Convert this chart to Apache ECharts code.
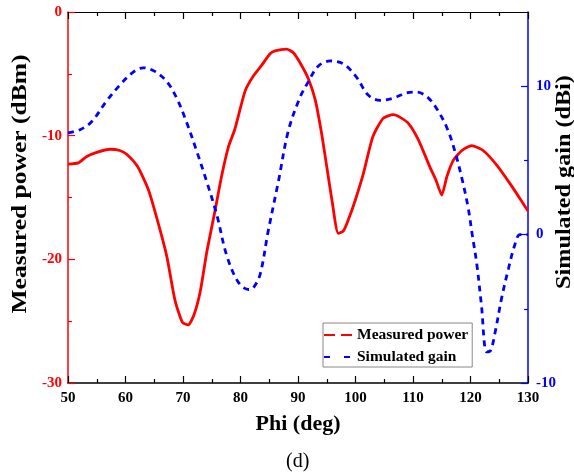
<!DOCTYPE html>
<html>
<head>
<meta charset="utf-8">
<script src="https://cdn.jsdelivr.net/npm/echarts@6/dist/echarts.min.js"></script>
<style>html,body{margin:0;padding:0;background:#fff}#c{width:574px;height:474px}</style>
</head>
<body>
<div id="c"></div>
<script>
var measuredPhi = [50,51.8,53.2,55,57.3,59.0,60.2,62.1,64.0,65.7,67.2,68.6,69.9,70.9,71.9,73.0,74.1,75.6,76.7,77.9,79.0,80.8,82.2,83.7,85.1,86.0,88.0,89.2,90.6,91.8,93.0,94.1,95.0,95.9,97.0,97.9,98.75,99.9,101.4,103.0,104.8,106.6,107.7,109.2,110.9,113.0,114.0,115.0,115.9,117.0,118.5,120.2,122.2,124.6,126.9,128.9,130];
var measuredPower = [-12.3,-12.2,-11.7,-11.35,-11.1,-11.2,-11.5,-12.5,-14.4,-17.1,-19.8,-23.3,-25.1,-25.3,-24.5,-22.6,-19.5,-16.0,-13.3,-10.9,-9.5,-6.4,-5.2,-4.3,-3.4,-3.15,-3.0,-3.3,-4.3,-5.4,-7.1,-9.8,-12.5,-15.2,-17.9,-17.7,-16.8,-15.3,-13.0,-10.1,-8.6,-8.3,-8.5,-9.0,-10.3,-12.6,-13.6,-14.8,-13.3,-12.0,-11.2,-10.8,-11.2,-12.4,-13.9,-15.3,-16.1];
var simulatedPhi = [50,52.1,54.1,56.7,59.3,61.4,63.1,65.1,67.2,68.9,70.6,72.4,74.1,75.9,77.6,79.6,81.4,82.2,83.4,84.8,86.6,88.3,90.3,91.8,93.5,95.6,97.9,100.2,102.2,104.3,106.6,108.9,110.6,112.4,114.1,115.9,117.3,118.5,119.6,120.3,121.1,121.9,122.8,123.5,124.3,125.4,126.6,127.7,128.6,130];
var simulatedGain = [6.85,7.07,7.6,9.0,10.2,10.97,11.24,11.0,10.3,9.2,7.6,5.6,3.6,1.3,-1.4,-3.2,-3.7,-3.6,-2.7,0.2,3.6,6.96,9.2,10.3,11.35,11.7,11.5,10.6,9.4,9.05,9.2,9.55,9.6,9.3,8.5,7.2,5.6,3.8,1.8,0,-2.0,-4.75,-7.9,-7.8,-6.55,-4.3,-2.3,-0.7,0,0];
var xTicks = [50,60,70,80,90,100,110,120,130];
var leftTicks = [-30,-20,-10,0];
var rightTicks = [-10,0,10];

function zip(a,b){return a.map(function(v,i){return [v,b[i]];});}
var F = '"Liberation Serif","Times New Roman",serif';
var RED = '#ff0000', BLUE = '#0000ff';

var chart = echarts.init(document.getElementById('c'));
chart.setOption({
  animation:false,
  backgroundColor:'#fff',
  grid:{left:68,right:46,top:12,bottom:91,containLabel:false,outerBoundsMode:'none'},
  xAxis:[{
    type:'value',min:50,max:130,interval:10,position:'bottom',
    name:'Phi (deg)',nameLocation:'middle',nameGap:30,
    nameTextStyle:{fontFamily:F,fontWeight:'bold',fontSize:22,color:'#000'},
    axisLine:{onZero:false,lineStyle:{color:'#000',width:1.5}},
    axisTick:{inside:true,length:7,lineStyle:{color:'#000',width:1.2}},
    minorTick:{show:true,splitNumber:2,length:4,lineStyle:{color:'#000',width:1.2}},
    splitLine:{show:false},
    axisLabel:{fontFamily:F,fontWeight:'bold',fontSize:15,color:'#000',margin:8,
      customValues:xTicks}
  },{
    type:'value',min:50,max:130,interval:10,position:'top',
    axisLine:{onZero:false,lineStyle:{color:'#000',width:1.2}},
    axisTick:{inside:true,length:7,lineStyle:{color:'#000',width:1.2}},
    minorTick:{show:true,splitNumber:2,length:4,lineStyle:{color:'#000',width:1.2}},
    splitLine:{show:false},axisLabel:{show:false}
  }],
  yAxis:[{
    type:'value',min:-30,max:0,interval:10,position:'left',
    axisLine:{onZero:false,lineStyle:{color:RED,width:1.5}},
    axisTick:{inside:true,length:7,lineStyle:{color:RED,width:1.2}},
    minorTick:{show:true,splitNumber:2,length:4,lineStyle:{color:RED,width:1.2}},
    splitLine:{show:false},
    axisLabel:{fontFamily:F,fontWeight:'bold',fontSize:15,color:RED,margin:6,customValues:leftTicks}
  },{
    type:'value',min:-10,max:15,interval:5,position:'right',
    axisLine:{onZero:false,lineStyle:{color:BLUE,width:1.5}},
    axisTick:{inside:true,length:7,lineStyle:{color:BLUE,width:1.2},customValues:rightTicks},
    splitLine:{show:false},
    axisLabel:{fontFamily:F,fontWeight:'bold',fontSize:15,color:BLUE,margin:8,customValues:rightTicks}
  },{
    type:'value',min:-10,max:15,interval:5,position:'right',
    axisLine:{show:false,onZero:false},
    axisTick:{inside:true,length:4,lineStyle:{color:BLUE,width:1.2},customValues:[-5,5]},
    splitLine:{show:false},axisLabel:{show:false}
  }],
  legend:{
    orient:'vertical',left:323,top:323,
    itemWidth:28,itemHeight:14,itemGap:6,
    padding:[4,4,2,0],
    borderColor:'#888',borderWidth:1,
    itemStyle:{opacity:0},
    textStyle:{fontFamily:F,fontWeight:'bold',fontSize:15.5,lineHeight:16,color:'#000'},
    data:[
      {name:'Measured power',lineStyle:{type:[11,6]}},
      {name:'Simulated gain',lineStyle:{type:[6,14]}}
    ]
  },
  series:[{
    name:'Measured power',type:'line',xAxisIndex:0,yAxisIndex:0,
    data:zip(measuredPhi,measuredPower),smooth:0.2,showSymbol:false,symbol:'none',
    lineStyle:{color:RED,width:2.8},itemStyle:{color:RED}
  },{
    name:'Simulated gain',type:'line',xAxisIndex:0,yAxisIndex:1,
    data:zip(simulatedPhi,simulatedGain),smooth:0.35,showSymbol:false,symbol:'none',
    lineStyle:{color:BLUE,width:2.8,type:[6,5]},itemStyle:{color:BLUE}
  }],
  graphic:[{
    type:'text',left:286,top:452,
    style:{text:'(d)',font:'20px '+F,fill:'#000'}
  },{
    type:'text',x:20,y:184,rotation:Math.PI/2,scaleX:1.16,
    style:{text:'Measured power (dBm)',font:'bold 22px '+F,fill:'#000',align:'center',verticalAlign:'middle'}
  },{
    type:'text',x:564,y:182,rotation:Math.PI/2,scaleX:1.10,
    style:{text:'Simulated gain (dBi)',font:'bold 22px '+F,fill:'#000',align:'center',verticalAlign:'middle'}
  }]
});
</script>
</body>
</html>
